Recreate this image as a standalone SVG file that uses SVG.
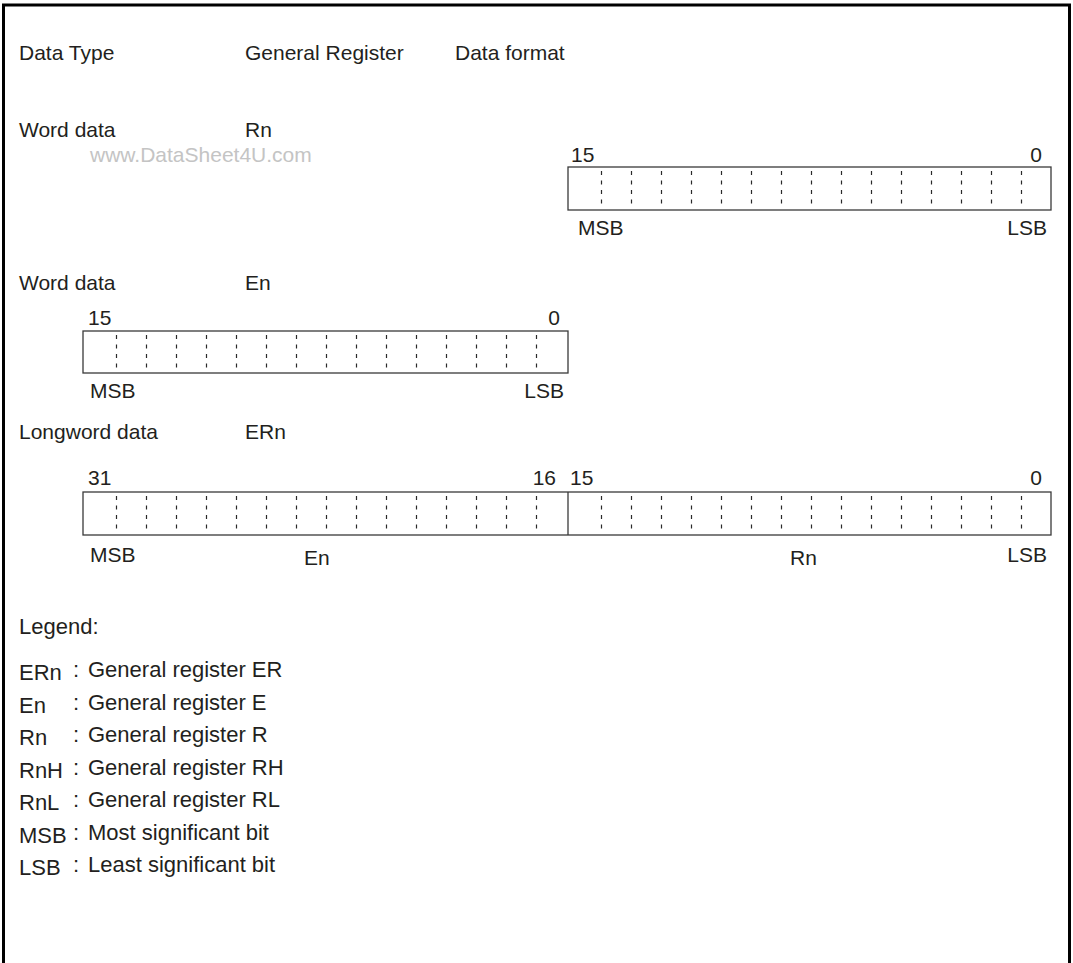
<svg xmlns="http://www.w3.org/2000/svg" width="1073" height="963" viewBox="0 0 1073 963">
<style>
text{font-family:"Liberation Sans",Arial,sans-serif;font-size:21px;fill:#231f20}
#legend text{font-size:22px}
.wm{fill:#c4c4c4}
.end{text-anchor:end}
.box{fill:#fff;stroke:#3a3a3a;stroke-width:1.3}
.div{stroke:#2a2a2a;stroke-width:1.2;stroke-dasharray:4 5.5;fill:none}
.solid{stroke:#3a3a3a;stroke-width:1.3;fill:none}
.frame{fill:none;stroke:#000;stroke-width:3}
</style>
<rect width="1073" height="963" fill="#fff"/>
<path class="frame" d="M3.5,975 V5 H1069.5 V975"/>

<g id="header">
<text x="19" y="60">Data Type</text>
<text x="245" y="60">General Register</text>
<text x="455" y="60">Data format</text>
</g>

<g id="word-rn">
<text x="19" y="137">Word data</text>
<text x="245" y="137">Rn</text>
<text class="wm" x="90" y="162">www.DataSheet4U.com</text>
<text x="571" y="162">15</text>
<text class="end" x="1042" y="162">0</text>
<rect class="box" x="568" y="167" width="483" height="43"/>
<path class="div" d="M601.5,171V205M631.5,171V205M661.5,171V205M691.5,171V205M721.5,171V205M751.5,171V205M781.5,171V205M811.5,171V205M841.5,171V205M871.5,171V205M901.5,171V205M931.5,171V205M961.5,171V205M991.5,171V205M1021.5,171V205"/>
<text x="578" y="235">MSB</text>
<text class="end" x="1047" y="235">LSB</text>
</g>

<g id="word-en">
<text x="19" y="290">Word data</text>
<text x="245" y="290">En</text>
<text x="88" y="325">15</text>
<text class="end" x="560" y="325">0</text>
<rect class="box" x="83" y="331" width="485" height="42"/>
<path class="div" d="M116.5,335V369M146.5,335V369M176.5,335V369M206.5,335V369M236.5,335V369M266.5,335V369M296.5,335V369M326.5,335V369M356.5,335V369M386.5,335V369M416.5,335V369M446.5,335V369M476.5,335V369M506.5,335V369M536.5,335V369"/>
<text x="90" y="398">MSB</text>
<text class="end" x="564" y="398">LSB</text>
</g>

<g id="longword-ern">
<text x="19" y="439">Longword data</text>
<text x="245" y="439">ERn</text>
<text x="88" y="485">31</text>
<text class="end" x="556" y="485">16</text>
<text x="570" y="485">15</text>
<text class="end" x="1042" y="485">0</text>
<rect class="box" x="83" y="492" width="968" height="43"/>
<path class="solid" d="M568,492V535"/>
<path class="div" d="M116.5,496V530M146.5,496V530M176.5,496V530M206.5,496V530M236.5,496V530M266.5,496V530M296.5,496V530M326.5,496V530M356.5,496V530M386.5,496V530M416.5,496V530M446.5,496V530M476.5,496V530M506.5,496V530M536.5,496V530M601.5,496V530M631.5,496V530M661.5,496V530M691.5,496V530M721.5,496V530M751.5,496V530M781.5,496V530M811.5,496V530M841.5,496V530M871.5,496V530M901.5,496V530M931.5,496V530M961.5,496V530M991.5,496V530M1021.5,496V530"/>
<text x="90" y="562">MSB</text>
<text x="304" y="565">En</text>
<text x="790" y="565">Rn</text>
<text class="end" x="1047" y="562">LSB</text>
</g>

<g id="legend">
<text x="19" y="634">Legend:</text>
<text x="19" y="680">ERn</text><text x="73" y="677">:</text><text x="88" y="677">General register ER</text>
<text x="19" y="712.5">En</text><text x="73" y="709.5">:</text><text x="88" y="709.5">General register E</text>
<text x="19" y="745">Rn</text><text x="73" y="742">:</text><text x="88" y="742">General register R</text>
<text x="19" y="777.5">RnH</text><text x="73" y="774.5">:</text><text x="88" y="774.5">General register RH</text>
<text x="19" y="810">RnL</text><text x="73" y="807">:</text><text x="88" y="807">General register RL</text>
<text x="19" y="842.5">MSB</text><text x="73" y="839.5">:</text><text x="88" y="839.5">Most significant bit</text>
<text x="19" y="875">LSB</text><text x="73" y="872">:</text><text x="88" y="872">Least significant bit</text>
</g>
</svg>
